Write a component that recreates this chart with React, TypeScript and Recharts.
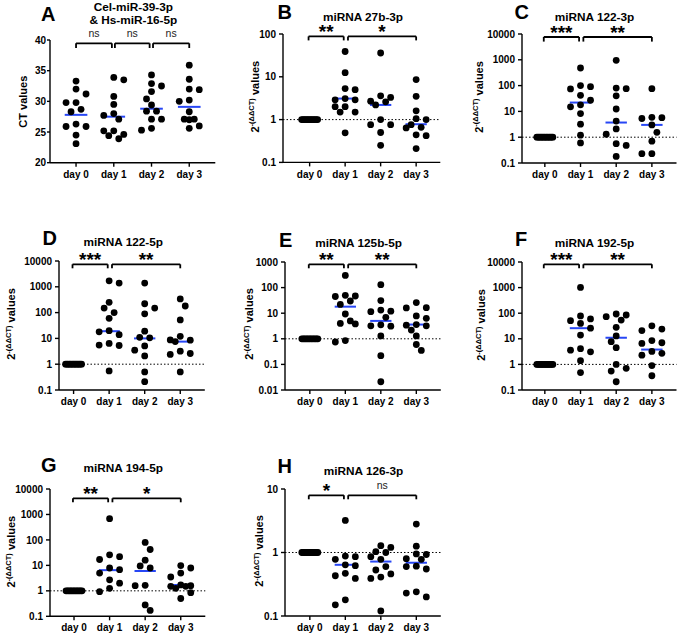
import React from 'react';
import { ScatterChart, Scatter, XAxis, YAxis, ReferenceLine } from 'recharts';

const FONT = '"Liberation Sans", Arial, Helvetica, sans-serif';
const MEDIAN_BLUE = '#2746f5';

// ---------- tick labels ----------
const DAY_LABELS = ['day 0', 'day 1', 'day 2', 'day 3'];
const CT_TICKS = [20, 25, 30, 35, 40];
const LOG_TICKS_100 = [0.1, 1, 10, 100];
const LOG_TICKS_10000 = [0.1, 1, 10, 100, 1000, 10000];
const LOG_TICKS_1000 = [0.01, 0.1, 1, 10, 100, 1000];
const LOG_TICKS_10 = [0.1, 1, 10];

// ---------- data ----------
// day 0 of the normalised panels: every sample equals 1
const ONES = [1, 1, 1, 1, 1, 1, 1, 1, 1, 1, 1, 1];

// A: Cel-miR-39-3p & Hs-miR-16-5p (CT values)
const A_DAY0 = [33.3, 32.0, 31.2, 29.8, 29.8, 28.7, 28.3, 26.3, 25.9, 25.9, 24.5, 23.1];
const A_DAY1 = [33.9, 33.5, 30.8, 29.5, 28.0, 27.7, 27.1, 25.2, 25.2, 24.6, 24.4, 23.9];
const A_DAY2 = [34.3, 32.9, 32.5, 31.6, 30.4, 29.4, 28.4, 28.4, 27.1, 27.1, 25.6, 25.3];
const A_DAY3 = [35.9, 33.6, 32.0, 31.9, 30.2, 30.0, 28.3, 27.1, 27.1, 27.0, 26.0, 25.6];
const A_MEDIANS = [27.8, 27.5, 28.8, 29.1];
const A_SIG = ['ns', 'ns', 'ns'];

// B: miRNA 27b-3p
const B_DAY1 = [39, 12.5, 5.3, 5.0, 3.1, 2.9, 2.9, 2.0, 2.0, 1.5, 1.5, 0.49];
const B_DAY2 = [36, 3.6, 3.3, 2.7, 2.6, 2.2, 1.0, 0.76, 0.76, 0.5, 0.25];
const B_DAY3 = [8.6, 3.5, 1.6, 1.05, 1.0, 0.76, 0.66, 0.64, 0.44, 0.42, 0.21];
const B_MEDIANS = [null, 3.1, 2.2, 0.78];
const B_SIG = ['**', '*'];

// C: miRNA 122-3p
const C_DAY1 = [480, 100, 91, 74, 42, 27, 18, 15, 8.2, 3.2, 1.2, 0.6];
const C_DAY2 = [950, 80, 76, 40, 12.4, 4.2, 2.1, 1.3, 0.56, 0.48, 0.18];
const C_DAY3 = [76, 5.9, 5.7, 5.3, 3.0, 1.55, 0.7, 0.23, 0.23];
const C_MEDIANS = [null, 22, 3.7, 3.0];
const C_SIG = ['***', '**'];

// D: miRNA 122-5p
const D_DAY1 = [1700, 1400, 250, 150, 100, 60, 20, 18, 14, 6.4, 5.5, 5.3, 0.55];
const D_DAY2 = [1400, 220, 150, 90, 19, 11, 10.5, 5.1, 3.5, 2.1, 0.5, 0.21];
const D_DAY3 = [340, 180, 52, 12, 8.7, 8.5, 7.5, 3.2, 2.6, 2.4, 0.5];
const D_MEDIANS = [null, 19, 10, 7.5];
const D_SIG = ['***', '**'];

// E: miRNA 125b-5p
const E_DAY1 = [300, 50, 47, 45, 30, 22, 9.3, 5.0, 4.0, 3.8, 0.85, 0.75];
const E_DAY2 = [130, 31, 13.3, 12, 11.5, 6.9, 3.5, 3.2, 3.1, 1.3, 0.22, 0.021];
const E_DAY3 = [26, 16.5, 16, 7.8, 6.3, 3.6, 3.4, 3.2, 2.2, 1.3, 0.6, 0.35];
const E_MEDIANS = [null, 18, 5, 3.6];
const E_SIG = ['**', '**'];

// F: miRNA 192-5p
const F_DAY1 = [1020, 78, 60, 51, 40, 26, 14, 4.1, 3.6, 3.1, 1.4, 0.48];
const F_DAY2 = [93, 85, 73, 54, 28, 13, 7.7, 4.5, 1.0, 0.7, 0.55, 0.21];
const F_DAY3 = [32, 24, 21, 8.5, 7, 6.6, 3.2, 2.7, 2.3, 0.9, 0.36];
const F_MEDIANS = [null, 26, 11, 3.8];
const F_SIG = ['***', '**'];

// G: miRNA 194-5p
const G_DAY1 = [680, 26, 22, 17, 7.9, 6.8, 5.0, 2.7, 2.0, 1.25, 0.93];
const G_DAY2 = [80, 42, 16, 9.5, 7.9, 1.65, 1.6, 0.28, 0.17];
const G_DAY3 = [9.8, 7.9, 5.0, 3.5, 1.7, 1.6, 1.5, 1.5, 1.25, 0.85, 0.5];
const G_MEDIANS = [null, 6.5, 6, 1.7];
const G_SIG = ['**', '*'];

// H: miRNA 126-3p
const H_DAY1 = [3.2, 0.88, 0.86, 0.78, 0.64, 0.62, 0.47, 0.43, 0.39, 0.18, 0.15];
const H_DAY2 = [1.28, 1.2, 1.03, 1.0, 0.86, 0.78, 0.6, 0.53, 0.46, 0.41, 0.39, 0.12];
const H_DAY3 = [2.8, 1.26, 0.95, 0.93, 0.8, 0.78, 0.61, 0.6, 0.55, 0.24, 0.23, 0.2];
const H_MEDIANS = [null, 0.64, 0.72, 0.69];
const H_SIG = ['*', 'ns'];

type Panel = {
  letter: string;
  title: string[];
  groups: number[][];
  medians: (number | null)[];
  sig: string[];
  log: boolean;
  yDomain: [number, number];
  yTicks: number[];
  yLabel: 'ct' | 'ddct';
};

const PANELS: Panel[] = [
  { letter: 'A', title: ['Cel-miR-39-3p', '& Hs-miR-16-5p'], groups: [A_DAY0, A_DAY1, A_DAY2, A_DAY3], medians: A_MEDIANS, sig: A_SIG, log: false, yDomain: [20, 40], yTicks: CT_TICKS, yLabel: 'ct' },
  { letter: 'B', title: ['miRNA 27b-3p'], groups: [ONES, B_DAY1, B_DAY2, B_DAY3], medians: B_MEDIANS, sig: B_SIG, log: true, yDomain: [0.1, 100], yTicks: LOG_TICKS_100, yLabel: 'ddct' },
  { letter: 'C', title: ['miRNA 122-3p'], groups: [ONES, C_DAY1, C_DAY2, C_DAY3], medians: C_MEDIANS, sig: C_SIG, log: true, yDomain: [0.1, 10000], yTicks: LOG_TICKS_10000, yLabel: 'ddct' },
  { letter: 'D', title: ['miRNA 122-5p'], groups: [ONES, D_DAY1, D_DAY2, D_DAY3], medians: D_MEDIANS, sig: D_SIG, log: true, yDomain: [0.1, 10000], yTicks: LOG_TICKS_10000, yLabel: 'ddct' },
  { letter: 'E', title: ['miRNA 125b-5p'], groups: [ONES, E_DAY1, E_DAY2, E_DAY3], medians: E_MEDIANS, sig: E_SIG, log: true, yDomain: [0.01, 1000], yTicks: LOG_TICKS_1000, yLabel: 'ddct' },
  { letter: 'F', title: ['miRNA 192-5p'], groups: [ONES, F_DAY1, F_DAY2, F_DAY3], medians: F_MEDIANS, sig: F_SIG, log: true, yDomain: [0.1, 10000], yTicks: LOG_TICKS_10000, yLabel: 'ddct' },
  { letter: 'G', title: ['miRNA 194-5p'], groups: [ONES, G_DAY1, G_DAY2, G_DAY3], medians: G_MEDIANS, sig: G_SIG, log: true, yDomain: [0.1, 10000], yTicks: LOG_TICKS_10000, yLabel: 'ddct' },
  { letter: 'H', title: ['miRNA 126-3p'], groups: [ONES, H_DAY1, H_DAY2, H_DAY3], medians: H_MEDIANS, sig: H_SIG, log: true, yDomain: [0.1, 10], yTicks: LOG_TICKS_10, yLabel: 'ddct' },
];

// ---------- layout (pixels) ----------
type Layout = {
  plotLeft: number; plotTop: number; plotW: number; plotH: number;
  xDomain: [number, number];
  brackets: [number, number][];
  bracketTop: number; bracketLeg: number;
  letterPos: [number, number];
  titleX: number; titleY: number[];
  yLabelPos: [number, number];
  yTickSize: number; yTickMargin: number;
};

const TWO_BRACKETS: [number, number][] = [[-0.03, 0.96], [1.08, 3.0]];
const THREE_BRACKETS: [number, number][] = [[0, 0.95], [1.03, 1.95], [2.04, 3.0]];

const LAYOUTS: Layout[] = [
  { plotLeft: 50, plotTop: 40, plotW: 165.3, plotH: 122.7, xDomain: [-0.69, 3.69], brackets: THREE_BRACKETS, bracketTop: 3.3, bracketLeg: 4.7, letterPos: [41, 20.7], titleX: 133.3, titleY: [10.5, 23.5], yLabelPos: [27, 101.7], yTickSize: 3, yTickMargin: 1 },
  { plotLeft: 283.3, plotTop: 34.3, plotW: 157.3, plotH: 128.4, xDomain: [-0.75, 3.68], brackets: TWO_BRACKETS, bracketTop: 2.4, bracketLeg: 4, letterPos: [277.5, 18.5], titleX: 363, titleY: [20.5], yLabelPos: [258.5, 96.7], yTickSize: 4, yTickMargin: 3 },
  { plotLeft: 522.3, plotTop: 33.7, plotW: 154.5, plotH: 129, xDomain: [-0.64, 3.69], brackets: TWO_BRACKETS, bracketTop: 3, bracketLeg: 4.6, letterPos: [514.5, 18.5], titleX: 594.5, titleY: [20.5], yLabelPos: [482.5, 97], yTickSize: 4, yTickMargin: 3 },
  { plotLeft: 59.3, plotTop: 261, plotW: 145.8, plotH: 129, xDomain: [-0.41, 3.69], brackets: TWO_BRACKETS, bracketTop: 3.3, bracketLeg: 4, letterPos: [42.5, 245], titleX: 123.3, titleY: [246], yLabelPos: [15, 324], yTickSize: 4, yTickMargin: 3 },
  { plotLeft: 285.3, plotTop: 262, plotW: 155.8, plotH: 128, xDomain: [-0.7, 3.69], brackets: TWO_BRACKETS, bracketTop: 2.3, bracketLeg: 4, letterPos: [279, 246.7], titleX: 358.7, titleY: [247], yLabelPos: [253.3, 324], yTickSize: 4, yTickMargin: 3 },
  { plotLeft: 522.3, plotTop: 262, plotW: 154.5, plotH: 128, xDomain: [-0.64, 3.69], brackets: TWO_BRACKETS, bracketTop: 2.3, bracketLeg: 4, letterPos: [515, 246], titleX: 594.5, titleY: [247], yLabelPos: [485, 325], yTickSize: 4, yTickMargin: 3 },
  { plotLeft: 50, plotTop: 488.7, plotW: 155.3, plotH: 127.3, xDomain: [-0.675, 3.69], brackets: TWO_BRACKETS, bracketTop: 9.3, bracketLeg: 4, letterPos: [41, 471.7], titleX: 123.3, titleY: [472], yLabelPos: [15, 551.7], yTickSize: 4, yTickMargin: 3 },
  { plotLeft: 285.3, plotTop: 489, plotW: 155.8, plotH: 127, xDomain: [-0.7, 3.69], brackets: TWO_BRACKETS, bracketTop: 6.3, bracketLeg: 4, letterPos: [277.5, 473.3], titleX: 363.5, titleY: [474.6], yLabelPos: [263.3, 551], yTickSize: 4, yTickMargin: 3 },
];

const DOT_R = 3.4;

// beeswarm-like horizontal spreading computed from the values
function swarm(values: number[], toPx: (v: number) => number, unitPx: number): number[] {
  const n = values.length;
  const out: number[] = new Array(n).fill(0);
  if (n > 1 && values.every((v) => v === values[0])) {
    const half = 8;
    return values.map((_, i) => (-half + (2 * half * i) / (n - 1)) / unitPx);
  }
  const COLL = 7.4;
  const STEP = 5;
  const order = values.map((_, i) => i).sort((a, b) => values[b] - values[a]);
  const placed: { x: number; y: number }[] = [];
  let lastSide = -1;
  order.forEach((idx) => {
    const y = toPx(values[idx]);
    const s = -lastSide;
    const cands = [0, s, -s, 2 * s, -2 * s];
    let best = 0;
    let bestScore = -Infinity;
    for (const c of cands) {
      const x = c * STEP;
      let minD = Infinity;
      for (const p of placed) minD = Math.min(minD, Math.hypot(p.x - x, p.y - y));
      if (minD >= COLL) { best = x; break; }
      if (minD > bestScore) { bestScore = minD; best = x; }
    }
    if (best !== 0) lastSide = Math.sign(best);
    placed.push({ x: best, y });
    out[idx] = best / unitPx;
  });
  return out;
}

const Dot = (props: any) => <circle cx={props.cx} cy={props.cy} r={DOT_R} fill="#000" />;

const axisStroke = { stroke: '#000', strokeWidth: 1.4 };

const XTick = (props: any) => (
  <text x={props.x} y={props.y} dy="0.72em" textAnchor="middle" fill="#000" fontSize={10} fontWeight={700} fontFamily={FONT}>
    {DAY_LABELS[props.payload.value]}
  </text>
);

const YTick = (props: any) => (
  <text x={props.x} y={props.y} dy="0.36em" textAnchor="end" fill="#000" fontSize={10} fontWeight={700} fontFamily={FONT}>
    {String(props.payload.value)}
  </text>
);

function sigLabel(s: string): any {
  return s === 'ns'
    ? { value: s, position: 'top', offset: 6.5, fill: '#222', fontSize: 10.5, fontWeight: 400, fontFamily: FONT }
    : { value: s, position: 'top', offset: -2, fill: '#000', fontSize: 19, fontWeight: 700, fontFamily: FONT };
}

function PanelChart({ p, l }: { p: Panel; l: Layout }) {
  const YW = 50, MT = 30, XH = 30, MR = 4;
  const [yMin, yMax] = p.yDomain;
  const lmax = Math.log10(yMax), lmin = Math.log10(yMin);
  const toPx = (v: number) => (p.log ? ((lmax - Math.log10(v)) / (lmax - lmin)) * l.plotH : ((yMax - v) / (yMax - yMin)) * l.plotH);
  const fromPx = (px: number) => (p.log ? Math.pow(10, lmax - (px / l.plotH) * (lmax - lmin)) : yMax - (px / l.plotH) * (yMax - yMin));
  const unitPx = l.plotW / (l.xDomain[1] - l.xDomain[0]);
  const points = p.groups.flatMap((vals, day) => {
    const offs = swarm(vals, toPx, unitPx);
    return vals.map((v, i) => ({ x: day + offs[i], y: v }));
  });
  const yTop = fromPx(l.bracketTop);
  const yLeg = fromPx(l.bracketTop + l.bracketLeg);
  const bStroke = { stroke: '#000', strokeWidth: 1.8 };
  return (
    <div style={{ position: 'absolute', left: l.plotLeft - YW, top: l.plotTop - MT }}>
      <ScatterChart width={YW + l.plotW + MR} height={MT + l.plotH + XH} margin={{ top: MT, right: MR, bottom: 0, left: 0 }}>
        <XAxis
          type="number" dataKey="x" domain={l.xDomain} ticks={[0, 1, 2, 3]} interval={0} allowDataOverflow
          height={XH} tickSize={4} tickMargin={4}
          axisLine={axisStroke} tickLine={axisStroke} tick={XTick}
        />
        <YAxis
          type="number" dataKey="y" scale={p.log ? 'log' : 'linear'} domain={p.yDomain} ticks={p.yTicks} interval={0}
          allowDataOverflow width={YW} tickSize={l.yTickSize} tickMargin={l.yTickMargin}
          axisLine={axisStroke} tickLine={axisStroke} tick={YTick}
        />
        {p.log && <ReferenceLine y={1} stroke="#000" strokeWidth={1} strokeDasharray="1.5 2" ifOverflow="visible" />}
        {p.medians.map((m, day) =>
          m == null ? null : (
            <ReferenceLine key={'m' + day} segment={[{ x: day - 0.3, y: m }, { x: day + 0.3, y: m }]} stroke={MEDIAN_BLUE} strokeWidth={2} ifOverflow="visible" />
          )
        )}
        {p.sig.map((s, i) => {
          const [x1, x2] = l.brackets[i];
          return [
            <ReferenceLine key={'bt' + i} segment={[{ x: x1, y: yTop }, { x: x2, y: yTop }]} {...bStroke} ifOverflow="visible" label={sigLabel(s)} />,
            <ReferenceLine key={'bl' + i} segment={[{ x: x1, y: yTop }, { x: x1, y: yLeg }]} {...bStroke} ifOverflow="visible" />,
            <ReferenceLine key={'br' + i} segment={[{ x: x2, y: yTop }, { x: x2, y: yLeg }]} {...bStroke} ifOverflow="visible" />,
          ];
        })}
        <Scatter data={points} isAnimationActive={false} shape={Dot} />
      </ScatterChart>
    </div>
  );
}

function Texts() {
  return (
    <svg width={677} height={636} style={{ position: 'absolute', left: 0, top: 0, pointerEvents: 'none' }}>
      {PANELS.map((p, i) => {
        const l = LAYOUTS[i];
        const [lx, ly] = l.yLabelPos;
        return (
          <g key={p.letter}>
            <text x={l.letterPos[0]} y={l.letterPos[1]} fontFamily={FONT} fontWeight={700} fontSize={20} fill="#000">{p.letter}</text>
            {p.title.map((t, k) => (
              <text key={k} x={l.titleX} y={l.titleY[k]} textAnchor="middle" fontFamily={FONT} fontWeight={700} fontSize={11.8} fill="#000">{t}</text>
            ))}
            {p.yLabel === 'ct' ? (
              <text transform={`translate(${lx},${ly}) rotate(-90)`} textAnchor="middle" fontFamily={FONT} fontWeight={700} fontSize={11} fill="#000">CT values</text>
            ) : (
              <text transform={`translate(${lx},${ly}) rotate(-90)`} textAnchor="middle" fontFamily={FONT} fontWeight={700} fontSize={11} fill="#000">
                <tspan>2</tspan>
                <tspan fontSize={7.5} dy={-4.5}>-(ΔΔCT)</tspan>
                <tspan dy={4.5}>{' values'}</tspan>
              </text>
            )}
          </g>
        );
      })}
    </svg>
  );
}

export default function App() {
  return (
    <div style={{ position: 'absolute', left: 0, top: 0, width: 677, height: 636, overflow: 'hidden', background: '#fff' }}>
      {PANELS.map((p, i) => (
        <PanelChart key={p.letter} p={p} l={LAYOUTS[i]} />
      ))}
      <Texts />
    </div>
  );
}
